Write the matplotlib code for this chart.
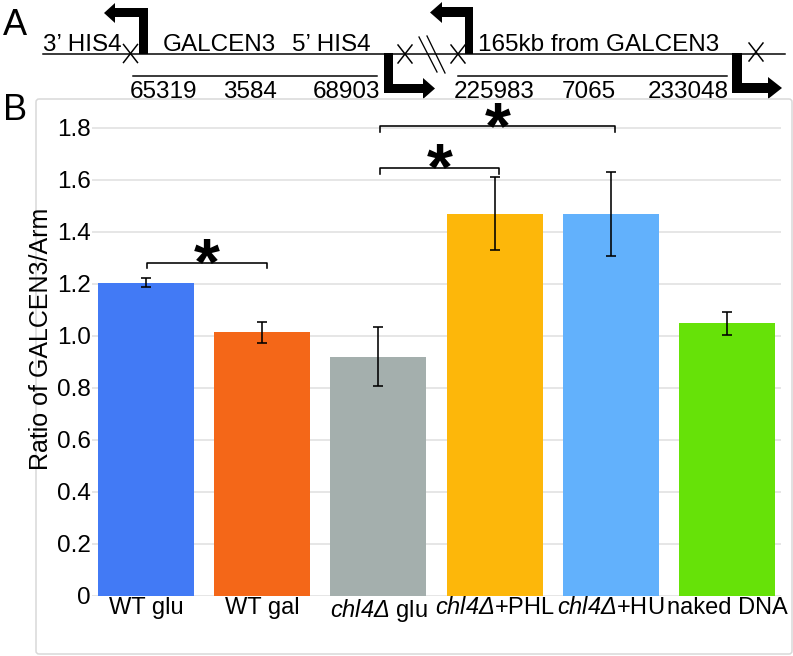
import matplotlib
matplotlib.use("Agg")
import matplotlib.pyplot as plt
from matplotlib.patches import Polygon, FancyBboxPatch
import numpy as np

plt.rcParams['font.family'] = ['Liberation Sans', 'DejaVu Sans']
plt.rcParams['mathtext.fontset'] = 'custom'
plt.rcParams['mathtext.it'] = 'Liberation Sans:italic'
plt.rcParams['mathtext.rm'] = 'Liberation Sans:italic'

# ---------------- data ----------------
categories = ['WT glu', 'WT gal', r'$chl4Δ$ glu', r'$chl4Δ$+PHL',
              r'$chl4Δ$+HU', 'naked DNA']
values = [1.205, 1.015, 0.920, 1.470, 1.470, 1.049]
errors = [0.018, 0.040, 0.113, 0.140, 0.162, 0.045]
colors = ['#427AF5', '#F46718', '#A4AFAD', '#FDB70A', '#62B1FC', '#66E208']
y_ticks = [0, 0.2, 0.4, 0.6, 0.8, 1.0, 1.2, 1.4, 1.6, 1.8]
y_tick_labels = ['0', '0.2', '0.4', '0.6', '0.8', '1.0', '1.2', '1.4', '1.6', '1.8']
sig_pairs = [(0, 1), (2, 3), (2, 4)]
sig_heights = [1.282, 1.647, 1.808]
ylabel = 'Ratio of GALCEN3/Arm'

W, H = 793, 656
fig = plt.figure(figsize=(W / 100, H / 100), dpi=100)

# --------------- panel A diagram (pixel coordinates) ---------------
axA = fig.add_axes([0, 0, 1, 1], zorder=0)
axA.set_xlim(0, W)
axA.set_ylim(H, 0)
axA.axis('off')

px = 0.72  # points per pixel
fs_txt = 17.5

axA.text(3, 35, 'A', fontsize=26, ha='left', va='baseline')
axA.text(3, 120, 'B', fontsize=26, ha='left', va='baseline')

# main line and number lines
axA.plot([43, 785], [53.5, 53.5], color='black', lw=1.5 * px)
axA.plot([133, 377], [76, 76], color='black', lw=1.5 * px)
axA.plot([458, 727], [76, 76], color='black', lw=1.5 * px)

# labels on main line
for txt, x in [('3’ HIS4', 43), ('GALCEN3', 163), ('5’ HIS4', 292), ('165kb from GALCEN3', 478)]:
    axA.text(x, 51, txt, fontsize=fs_txt, ha='left', va='baseline')
for txt, x in [('65319', 130), ('3584', 223), ('68903', 313),
               ('225983', 454), ('7065', 562), ('233048', 648)]:
    axA.text(x, 98, txt, fontsize=fs_txt, ha='left', va='baseline')

# X marks
for cx, cy in [(130.5, 53.5), (405, 54), (458, 54), (756, 52)]:
    axA.plot([cx - 7, cx + 7], [cy - 9, cy + 9], color='black', lw=1.5 * px)
    axA.plot([cx - 7, cx + 7], [cy + 9, cy - 9], color='black', lw=1.5 * px)

# break marks
axA.plot([419, 437], [37, 72], color='black', lw=1.3 * px)
axA.plot([427, 445], [36, 73], color='black', lw=1.3 * px)

# bent arrows
arrows = [
    [(148, 54), (148, 8), (115, 8), (115, 3), (104, 13), (115, 23), (115, 17), (139, 17), (139, 54)],
    [(384, 53), (393, 53), (393, 84), (423, 84), (423, 78), (435, 88.5), (423, 99), (423, 93), (384, 93)],
    [(473, 54), (473, 7), (442, 7), (442, 2), (430, 12.5), (442, 23), (442, 17), (465, 17), (465, 54)],
    [(732, 53), (742, 53), (742, 83), (768, 83), (768, 77), (782, 88), (768, 99), (768, 93), (732, 93)],
]
for pts in arrows:
    axA.add_patch(Polygon(pts, closed=True, facecolor='black', edgecolor='none'))

# panel B border
axA.add_patch(FancyBboxPatch((36, 99), 756, 555, boxstyle='round,pad=0,rounding_size=3',
                             facecolor='none', edgecolor='#d8d8d8', lw=1.5 * px))

# --------------- panel B bar chart ---------------
left, right, bottom_px, top_px = 92, 781, 596, 102
ax = fig.add_axes([left / W, (H - bottom_px) / H, (right - left) / W, (bottom_px - top_px) / H],
                  zorder=1)
ax.set_facecolor('none')
x = np.arange(len(categories))
ax.bar(x, values, width=0.826, color=colors, zorder=2)
ax.errorbar(x, values, yerr=errors, fmt='none', ecolor='black', elinewidth=1.6 * px,
            capsize=5 * px, capthick=1.6 * px, zorder=3)

ax.set_xlim(-0.465, 5.465)
ax.set_ylim(0, 1.9)
ax.set_yticks(y_ticks)
ax.set_yticklabels(y_tick_labels)
ax.set_xticks(x)
ax.set_xticklabels(categories)
ax.tick_params(axis='both', length=0)
ax.tick_params(axis='y', pad=1, labelsize=17.5)
ax.tick_params(axis='x', pad=1, labelsize=17)
ax.grid(axis='y', color='#dedede', lw=1.5 * px, zorder=0)
ax.set_axisbelow(True)
for s in ax.spines.values():
    s.set_visible(False)

ax.set_ylabel(ylabel, fontsize=18)
ax.yaxis.set_label_coords(-0.057, 0.52)

# significance brackets
drop = 0.022
ast_fs = 48
for (i, j), h in zip(sig_pairs, sig_heights):
    x0, x1 = i + 0.01, j + 0.04
    ax.plot([x0, x0, x1, x1], [h - drop, h, h, h - drop], color='black', lw=1.6 * px,
            clip_on=False, zorder=4)
    ax.annotate('*', xy=((x0 + x1) / 2, h + 0.062), xytext=(0, -0.568 * ast_fs),
                textcoords='offset points', ha='center', va='baseline',
                fontsize=ast_fs, fontweight='bold', annotation_clip=False, zorder=4)

fig.savefig('out.png', dpi=100)
